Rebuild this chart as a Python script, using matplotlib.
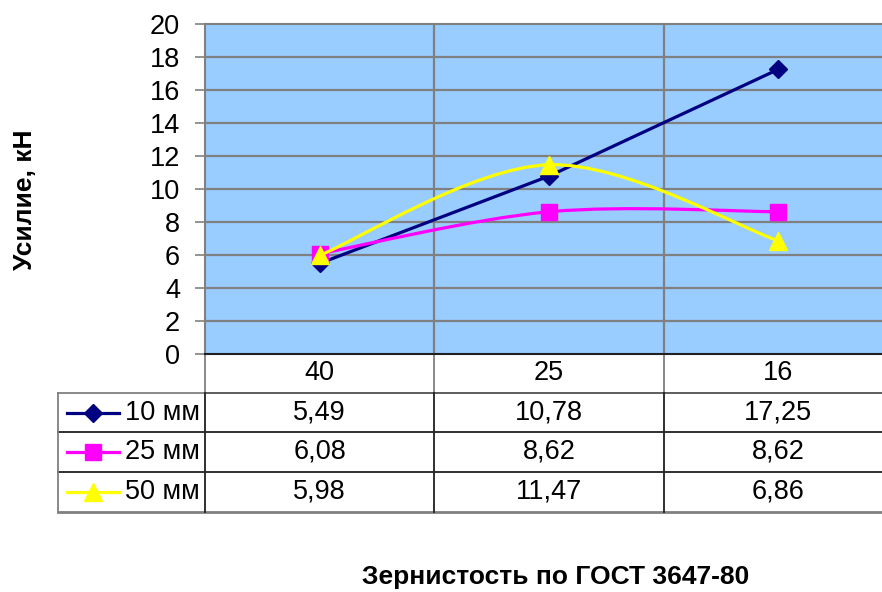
import numpy as np
import matplotlib
matplotlib.use("Agg")
import matplotlib.pyplot as plt
from matplotlib.transforms import blended_transform_factory
from matplotlib.path import Path
from matplotlib.patches import PathPatch
from matplotlib.lines import Line2D

plt.rcParams['font.family'] = ['Liberation Sans', 'DejaVu Sans']

grain = ['40', '25', '16']
series_names = ['10 мм', '25 мм', '50 мм']
force_10 = [5.49, 10.78, 17.25]
force_25 = [6.08, 8.62, 8.62]
force_50 = [5.98, 11.47, 6.86]

W, H = 882, 592
fig = plt.figure(figsize=(W / 100, H / 100), dpi=100)
FS = 19.5

# plot area in pixels: left 205, top 24, bottom 354, column width ~229
colw = 229.3
ax = fig.add_axes([205 / W, (H - 354) / H, 3 * colw / W, 330 / H])
ax.set_facecolor('#99ccff')
ax.set_xlim(-0.5, 2.5)
ax.set_ylim(0, 20)
ax.set_yticks(np.arange(0, 21, 2))
ax.set_xticks([])
ax.tick_params(axis='y', direction='out', length=7, width=1.2, color='#808080',
               labelsize=FS, pad=11)
for s in ['top', 'right', 'left']:
    ax.spines[s].set_color('#808080')
    ax.spines[s].set_linewidth(1.5)
ax.spines['bottom'].set_color('#202020')
ax.spines['bottom'].set_linewidth(1.5)
for v in np.arange(2, 20, 2):
    ax.axhline(v, color='#808080', lw=1.6, zorder=1)
for xv in [0.5, 1.5]:
    ax.axvline(xv, color='#808080', lw=1.6, zorder=1)


def smooth_path(xs, ys):
    # Excel-style smoothed line: cubic Bezier, control points at 1/6 of neighbour span
    pts = np.column_stack([xs, ys]).astype(float)
    n = len(pts)
    verts = [pts[0]]
    codes = [Path.MOVETO]
    for i in range(n - 1):
        p0 = pts[max(i - 1, 0)]
        p1 = pts[i]
        p2 = pts[i + 1]
        p3 = pts[min(i + 2, n - 1)]
        c1 = p1 + (p2 - p0) / 6
        c2 = p2 - (p3 - p1) / 6
        verts += [c1, c2, p2]
        codes += [Path.CURVE4] * 3
    return Path(verts, codes)


x = np.arange(len(grain))
styles = [
    (force_10, '#000080', 'D', 9.5, False),
    (force_25, '#ff00ff', 's', 11.5, True),
    (force_50, '#ffff00', '^', 12.5, True),
]
for k, (vals, col, mk, ms, smooth) in enumerate(styles):
    z = 3 + k
    if smooth:
        ax.add_patch(PathPatch(smooth_path(x, vals), fill=False, edgecolor=col,
                               lw=2.3, zorder=z))
    else:
        ax.plot(x, vals, color=col, lw=2.3, zorder=z)
    ax.plot(x, vals, ls='none', marker=mk, ms=ms, color=col, mec=col, zorder=z)

# data table under the plot
tr = blended_transform_factory(ax.transData, ax.transAxes)
px = 1 / 330
row_y = [0, -39 * px, -78 * px, -118 * px, -158 * px]
leg_left = -0.5 - 147 / colw
dark = '#202020'
grey = '#808080'


def seg(x0, x1, y0, y1, c, lw=1.3):
    ax.add_line(Line2D([x0, x1], [y0, y1], transform=tr, color=c, lw=lw, clip_on=False))


# header row
for xv in [-0.5, 0.5, 1.5]:
    seg(xv, xv, row_y[0], row_y[1], grey)
for i, g in enumerate(grain):
    ax.text(i, (row_y[0] + row_y[1]) / 2, g, transform=tr, ha='center', va='center',
            fontsize=FS)
# horizontal rules
seg(-0.5, 2.6, row_y[1], row_y[1], '#505050')
seg(leg_left, -0.5, row_y[1], row_y[1], grey)
seg(leg_left, 2.6, row_y[2], row_y[2], dark)
seg(leg_left, 2.6, row_y[3], row_y[3], dark)
seg(leg_left, 2.6, row_y[4], row_y[4], grey, 2)
# vertical rules in the body
seg(leg_left, leg_left, row_y[1], row_y[4], grey)
for xv in [-0.5, 0.5, 1.5]:
    seg(xv, xv, row_y[1], row_y[4], dark)

for r, (vals, col, mk, ms, smooth) in enumerate(styles):
    yc = (row_y[r + 1] + row_y[r + 2]) / 2
    lx0 = leg_left + 9 / colw
    lx1 = leg_left + 61 / colw
    ax.add_line(Line2D([lx0, lx1], [yc, yc], transform=tr, color=col, lw=2.3,
                       clip_on=False))
    ax.add_line(Line2D([(lx0 + lx1) / 2], [yc], transform=tr, color=col, marker=mk,
                       ms=ms, mec=col, ls='none', clip_on=False))
    ax.text(leg_left + 67 / colw, yc, series_names[r], transform=tr, ha='left',
            va='center', fontsize=FS)
    for i, v in enumerate(vals):
        ax.text(i, yc, f'{v:.2f}'.replace('.', ','), transform=tr, ha='center',
                va='center', fontsize=FS)

fig.text(25 / W, 1 - 200 / H, 'Усилие, кН', rotation=90, ha='center', va='center',
         fontsize=19, fontweight='bold')
fig.text(556 / W, 1 - 577 / H, 'Зернистость по ГОСТ 3647-80', ha='center',
         va='center', fontsize=19, fontweight='bold')

fig.savefig('out.png', dpi=100)
